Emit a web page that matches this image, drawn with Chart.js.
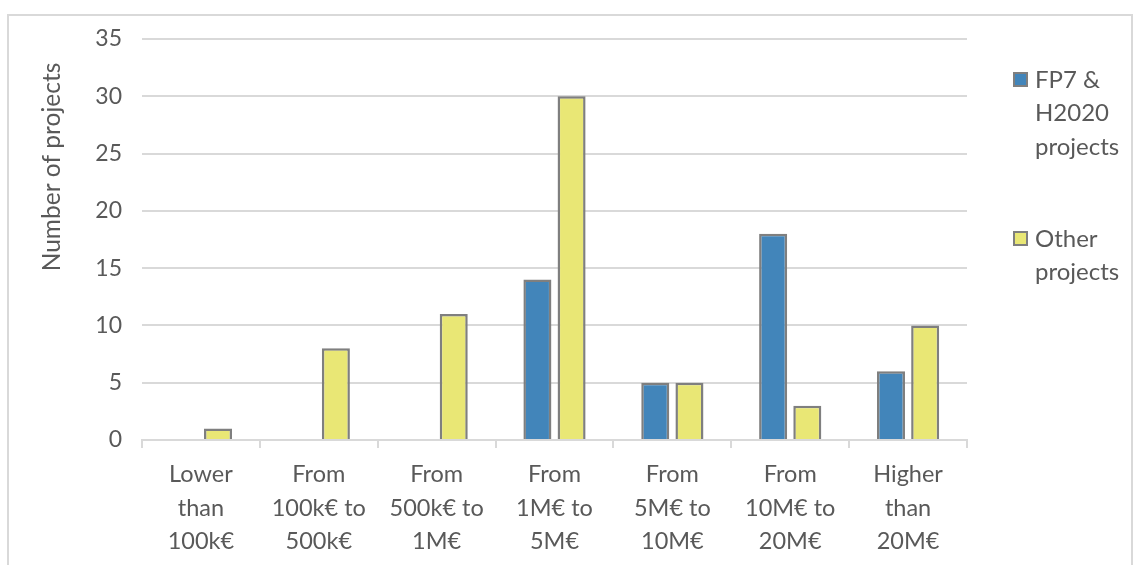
<!DOCTYPE html>
<html><head><meta charset="utf-8">
<script src="https://cdn.jsdelivr.net/npm/chart.js@4/dist/chart.umd.min.js"></script>
<style>html,body{margin:0;padding:0;background:#fff;}#wrap{width:1137px;height:565px;position:relative;}</style>
</head><body><div id="wrap"><canvas id="c" width="1137" height="565"></canvas></div>
<script>
const categories = [["Lower","than","100k€"],["From","100k€ to","500k€"],["From","500k€ to","1M€"],["From","1M€ to","5M€"],["From","5M€ to","10M€"],["From","10M€ to","20M€"],["Higher","than","20M€"]];
const fp7Values = [0, 0, 0, 14, 5, 18, 6];
const otherValues = [1, 8, 11, 30, 5, 3, 10];
const seriesNames = [["FP7 &","H2020","projects"],["Other","projects"]];
const yTitle = "Number of projects";
const FONT = "Lato, 'Open Sans', sans-serif";
const TXT = "#595959";

const frame = {
  id:'frame',
  beforeDraw(chart){
    const ctx = chart.ctx;
    ctx.save();
    ctx.strokeStyle = '#d9d9d9'; ctx.lineWidth = 2;
    ctx.strokeRect(8, 15, 1124, 560);
    ctx.restore();
  },
  afterDraw(chart){
    const ctx = chart.ctx;
    ctx.save();
    ctx.fillStyle = TXT;
    ctx.font = "24.5px " + FONT;
    ctx.translate(52, 167);
    ctx.rotate(-Math.PI/2);
    ctx.textAlign = 'center'; ctx.textBaseline = 'middle';
    ctx.fillText(yTitle, 0, 0);
    ctx.restore();
    ctx.save();
    ctx.font = "24px " + FONT;
    ctx.textBaseline = 'middle'; ctx.textAlign = 'left';
    const starts = [80, 239];
    chart.data.datasets.forEach((ds, i) => {
      const y0 = starts[i];
      ctx.fillStyle = ds.backgroundColor;
      ctx.fillRect(1014, y0-7, 13, 13);
      ctx.strokeStyle = '#7f7f7f'; ctx.lineWidth = 2;
      ctx.strokeRect(1014, y0-7, 13, 13);
      ctx.fillStyle = TXT;
      seriesNames[i].forEach((ln, j) => ctx.fillText(ln, 1035, y0 + j*33.5));
    });
    ctx.restore();
  }
};

new Chart(document.getElementById('c'), {
  type: 'bar',
  data: {
    labels: categories,
    datasets: [
      {label: "FP7 & H2020 projects", data: fp7Values, backgroundColor: '#4285BA', borderColor: '#7f7f7f', borderWidth: 2.5, categoryPercentage: 0.58, barPercentage: 0.82},
      {label: "Other projects", data: otherValues, backgroundColor: '#E9E775', borderColor: '#7f7f7f', borderWidth: 2.5, categoryPercentage: 0.58, barPercentage: 0.82}
    ]
  },
  options: {
    responsive: false,
    animation: false,
    devicePixelRatio: 1,
    layout: {padding: {left: 0, top: 39, right: 170, bottom: 0}},
    plugins: {legend: {display: false}, tooltip: {enabled: false}},
    scales: {
      x: {
        grid: {display: true, drawOnChartArea: false, drawTicks: true, tickLength: 8, color: '#d9d9d9', lineWidth: 2, offset: true},
        border: {display: true, color: '#d9d9d9', width: 2},
        ticks: {color: TXT, font: {family: FONT, size: 23.5, lineHeight: 1.42}, padding: 10, maxRotation: 0, autoSkip: false},
        afterFit(s){ s.height = 125; }
      },
      y: {
        min: 0, max: 35,
        ticks: {stepSize: 5, color: TXT, font: {family: FONT, size: 23}, padding: 20},
        grid: {color: '#d9d9d9', lineWidth: 2, drawTicks: false},
        border: {display: false},
        afterFit(s){ s.width = 142; }
      }
    }
  },
  plugins: [frame]
});
</script></body></html>
